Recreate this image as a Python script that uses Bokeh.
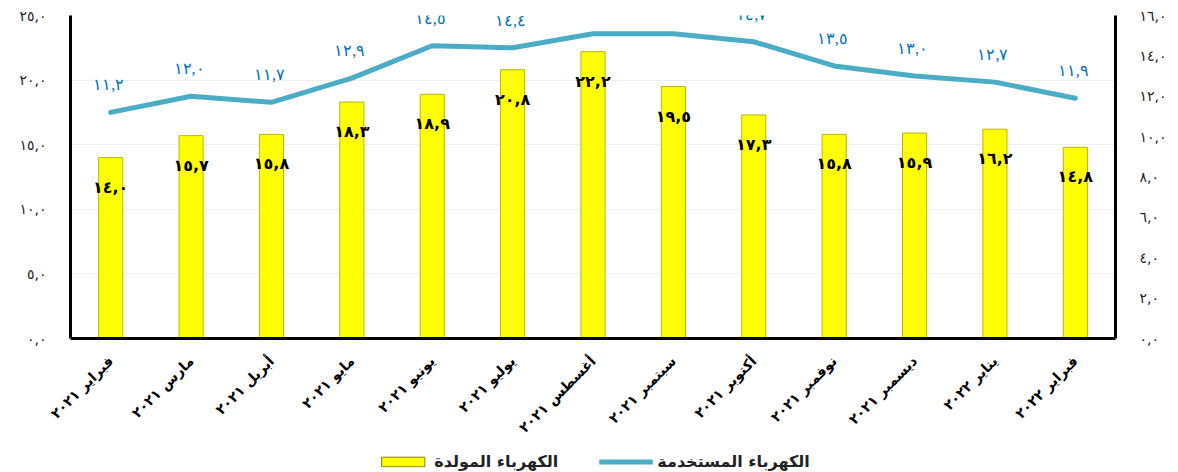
import math
from bokeh.plotting import figure
from bokeh.layouts import column
from bokeh.models import (ColumnDataSource, Range1d, LinearAxis, FixedTicker,
                          Legend, LegendItem, FactorRange, LabelSet)
from bokeh.core.properties import value
from bokeh.embed import file_html
from bokeh.resources import INLINE

months = ["فبراير ٢٠٢١", "مارس ٢٠٢١", "أبريل ٢٠٢١", "مايو ٢٠٢١", "يونيو ٢٠٢١",
          "يوليو ٢٠٢١", "أغسطس ٢٠٢١", "سبتمبر ٢٠٢١", "أكتوبر ٢٠٢١", "نوفمبر ٢٠٢١",
          "ديسمبر ٢٠٢١", "يناير ٢٠٢٢", "فبراير ٢٠٢٢"]
generated = [14.0, 15.7, 15.8, 18.3, 18.9, 20.8, 22.2, 19.5, 17.3, 15.8, 15.9, 16.2, 14.8]
consumed = [11.2, 12.0, 11.7, 12.9, 14.5, 14.4, 15.1, 15.1, 14.7, 13.5, 13.0, 12.7, 11.9]
left_ticks = [0, 5, 10, 15, 20, 25]
right_ticks = [0, 2, 4, 6, 8, 10, 12, 14, 16]
series_names = ["الكهرباء المولدة", "الكهرباء المستخدمة"]

AR = str.maketrans("0123456789.", "٠١٢٣٤٥٦٧٨٩,")


def ar(v):
    return ("%.1f" % v).translate(AR)


src = ColumnDataSource(dict(
    m=months, gen=generated, con=consumed,
    gen_lbl=[ar(v) for v in generated],
    con_lbl=[ar(v) for v in consumed],
))

FONT = "DejaVu Sans"
BAR_FILL = "#FFFF00"
BAR_LINE = "#B8B800"
LINE_COLOR = "#4BACC6"

p = figure(frame_width=1045, frame_height=323, x_range=FactorRange(*months),
           y_range=Range1d(0, 25), output_backend="svg", toolbar_location=None,
           min_border_left=70, min_border_right=60, min_border_top=15,
           min_border_bottom=0)
p.outline_line_color = None
p.background_fill_color = "white"
p.border_fill_color = "white"

p.extra_y_ranges = {"r": Range1d(0, 16)}

p.vbar(x="m", top="gen", width=0.3, source=src, fill_color=BAR_FILL,
       line_color=BAR_LINE, line_width=1)
p.line(x="m", y="con", source=src, y_range_name="r", line_color=LINE_COLOR,
       line_width=5, line_cap="round", line_join="round")

p.text(x="m", y="gen", text="gen_lbl", source=src,
       text_align="center", text_baseline="top", y_offset=20,
       text_color="black", text_font=value(FONT), text_font_size="16px",
       text_font_style="bold")

line_labels = LabelSet(x="m", y="con", text="con_lbl", source=src,
                       y_range_name="r", x_offset=-2, y_offset=19,
                       text_align="center", text_baseline="bottom",
                       text_color="#0070C0", text_font=FONT,
                       text_font_size="16px")
p.add_layout(line_labels)


def style_y(ax):
    ax.axis_line_width = 3
    ax.axis_line_color = "black"
    ax.major_tick_line_color = None
    ax.minor_tick_line_color = None
    ax.major_tick_out = 0
    ax.major_tick_in = 0
    ax.major_label_standoff = 24
    ax.major_label_text_font = FONT
    ax.major_label_text_font_size = "14px"
    ax.major_label_text_color = "#222222"


ya = p.yaxis[0]
ya.ticker = FixedTicker(ticks=left_ticks)
ya.major_label_overrides = {t: ar(t) for t in left_ticks}
style_y(ya)

ra = LinearAxis(y_range_name="r", ticker=FixedTicker(ticks=right_ticks))
ra.major_label_overrides = {t: ar(t) for t in right_ticks}
style_y(ra)
p.add_layout(ra, "right")

xa = p.xaxis[0]
xa.axis_line_width = 3
xa.axis_line_color = "black"
xa.major_tick_line_color = None
xa.minor_tick_line_color = None
xa.major_tick_out = 0
xa.major_tick_in = 0
xa.major_label_orientation = math.pi / 4
xa.major_label_text_font = FONT
xa.major_label_text_font_size = "14px"
xa.major_label_text_font_style = "bold"
xa.major_label_text_color = "black"
xa.major_label_standoff = 20

p.xgrid.grid_line_color = None
p.ygrid.grid_line_color = "#EFEFEF"
p.ygrid.ticker = FixedTicker(ticks=left_ticks)

# legend strip (its renderers use the same data, but lie outside its ranges)
leg = figure(width=1175, height=27, output_backend="svg", toolbar_location=None,
             min_border_left=8, min_border_right=0, min_border_top=7,
             min_border_bottom=0, x_range=FactorRange(*months),
             y_range=Range1d(100, 101))
leg.axis.visible = False
leg.grid.visible = False
leg.outline_line_color = None
r_bar = leg.vbar(x="m", top="gen", width=0.3, source=src, fill_color=BAR_FILL,
                 line_color="#7F7F00", line_width=1)
r_line = leg.line(x="m", y="con", source=src, line_color=LINE_COLOR, line_width=5)
legend = Legend(items=[LegendItem(label=series_names[0], renderers=[r_bar]),
                       LegendItem(label=series_names[1], renderers=[r_line])],
                orientation="horizontal", location="center",
                label_text_font=FONT, label_text_font_size="16px",
                label_text_font_style="bold", label_text_color="#222222",
                glyph_width=54, glyph_height=12, spacing=40, label_standoff=5,
                border_line_color=None, background_fill_alpha=0,
                padding=0, margin=0)
leg.add_layout(legend, "center")

layout = column(p, leg, spacing=0)
open("out.html", "w").write(file_html(layout, INLINE))
